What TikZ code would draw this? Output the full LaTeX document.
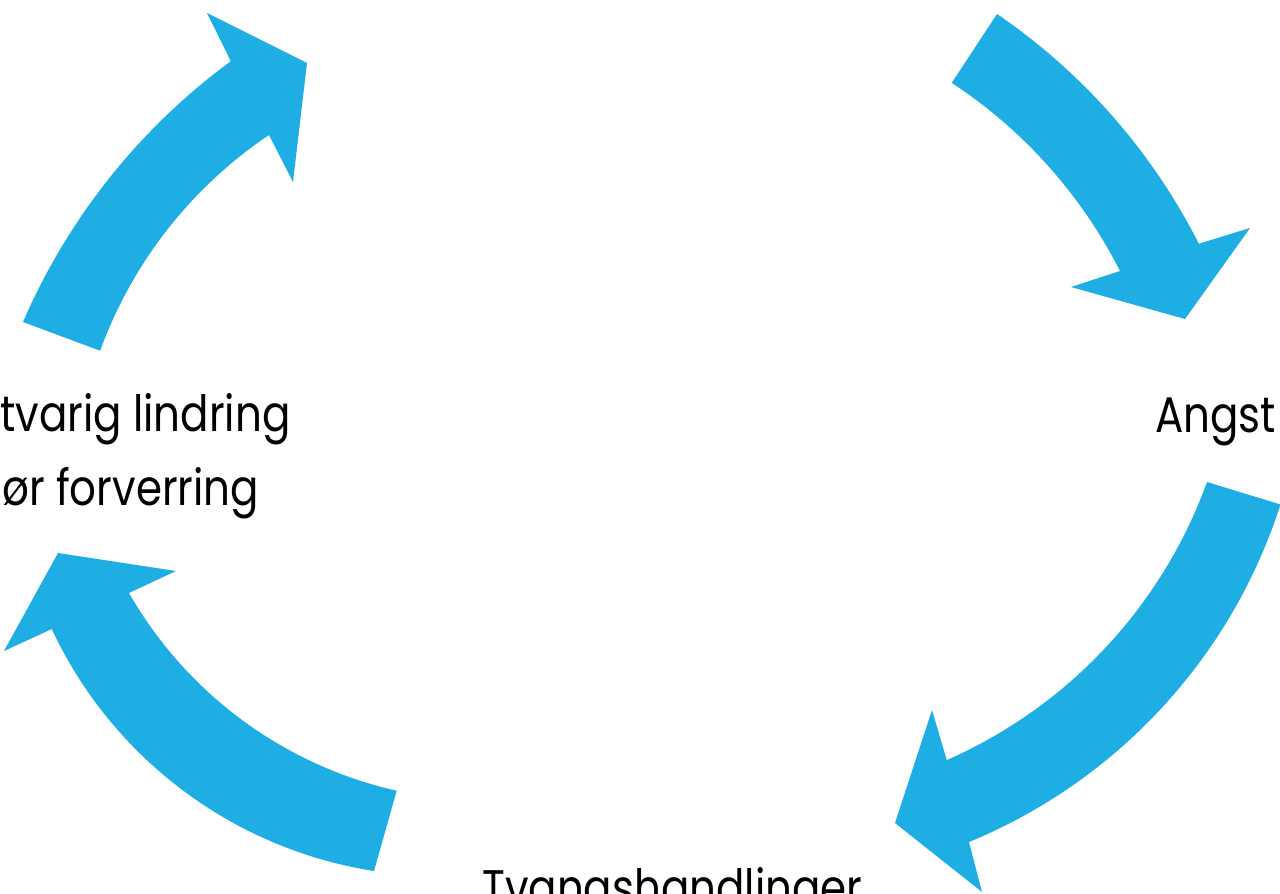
\documentclass[tikz,border=0pt]{standalone}
\usepackage{fontspec}
\setmainfont[FakeStretch=0.84]{Poppins}
\definecolor{arrowblue}{RGB}{31,174,228}
\tikzset{
  blockarrow/.style={fill=arrowblue, draw=none},
  label/.style={inner sep=0pt, anchor=base west, font=\fontsize{25}{30}\selectfont, text=black}
}
\begin{document}
\begin{tikzpicture}[x=0.5pt,y=-0.5pt]
\useasboundingbox (0,0) rectangle (1280,894);
\clip (0,0) rectangle (1280,894);
% top-left arrow
\fill[blockarrow] (23,322) arc[start angle=203.4, end angle=233.7, radius=638]
  -- (207,13) -- (307,63) -- (293,182) -- (269,135)
  arc[start angle=236.1, end angle=200.0, radius=442.1] -- cycle;
% top-right arrow
\fill[blockarrow] (997,14) arc[start angle=-55.7, end angle=-26.9, radius=614.8]
  -- (1250,228) -- (1185,319) -- (1071,287) -- (1120,271)
  arc[start angle=-26.9, end angle=-56.7, radius=490.8] -- cycle;
% bottom-right arrow
\fill[blockarrow] (1207,482) arc[start angle=19.9, end angle=66.3, radius=483.4]
  -- (932,710) -- (895,823) -- (982,892) -- (969,842)
  arc[start angle=67.6, end angle=17.8, radius=545.4] -- cycle;
% bottom-left arrow
\fill[blockarrow] (374,871) arc[start angle=98.9, end angle=154.9, radius=429.2]
  -- (4,651) -- (58,553) -- (176,571) -- (129,593)
  arc[start angle=150.2, end angle=102.7, radius=413.2] -- cycle;
% labels
\node[label] (angst) at (1155,432) {Angst};
\node[label] (lindring) at (0,431) {tvarig lindring};
\node[label] (forverring) at (2,505) {ør forverring};
\node[label] (tvang) at (482,905) {Tvangshandlinger};
\end{tikzpicture}
\end{document}
